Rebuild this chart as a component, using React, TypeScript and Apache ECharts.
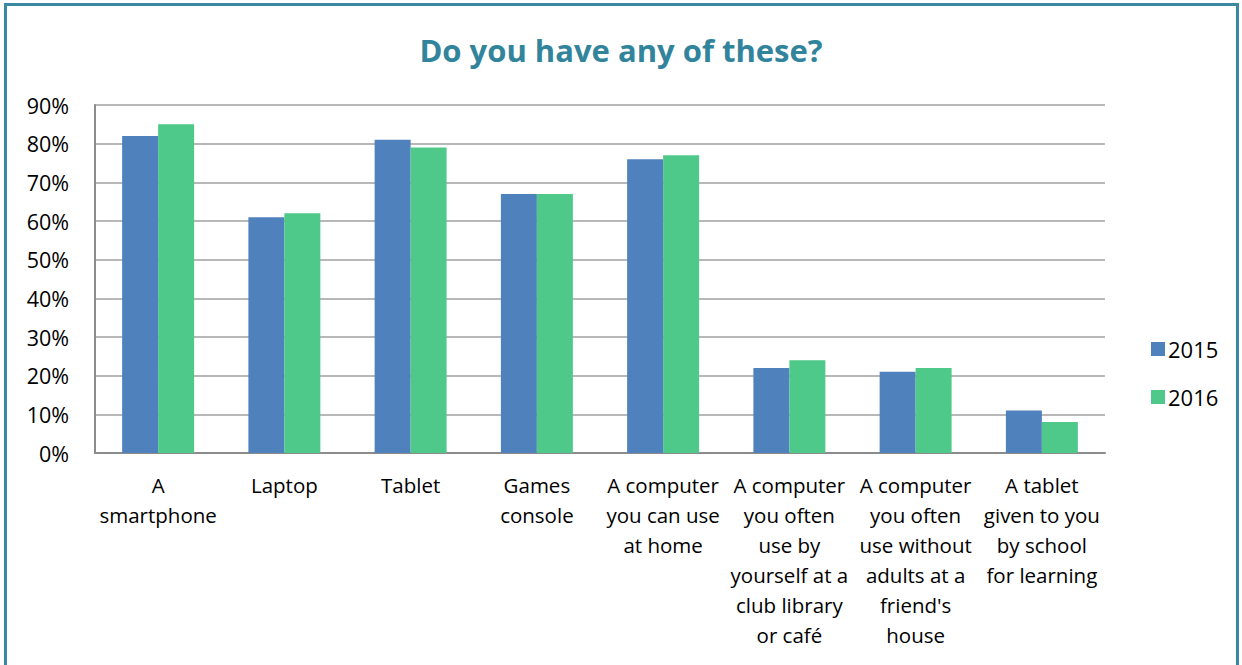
import React, { useEffect, useRef } from "react";
import * as echarts from "echarts";

const categories = [
  "A\nsmartphone",
  "Laptop",
  "Tablet",
  "Games\nconsole",
  "A computer\nyou can use\nat home",
  "A computer\nyou often\nuse by\nyourself at a\nclub library\nor café",
  "A computer\nyou often\nuse without\nadults at a\nfriend's\nhouse",
  "A tablet\ngiven to you\nby school\nfor learning",
];
const values2015 = [82, 61, 81, 67, 76, 22, 21, 11];
const values2016 = [85, 62, 79, 67, 77, 24, 22, 8];
const seriesNames = ["2015", "2016"];
const titleText = "Do you have any of these?";

const FONT = "'Open Sans', 'Noto Sans', sans-serif";

export default function App() {
  const ref = useRef<HTMLDivElement>(null);
  useEffect(() => {
    if (!ref.current) return;
    const chart = echarts.init(ref.current, null, { renderer: "svg" });
    chart.setOption({
      animation: false,
      backgroundColor: "#ffffff",
      textStyle: { fontFamily: FONT },
      title: {
        text: titleText,
        left: "center",
        top: 29,
        textStyle: { color: "#31849B", fontSize: 31, fontWeight: "bold", fontFamily: FONT },
      },
      graphic: [
        {
          type: "rect",
          shape: { x: 5.5, y: 4.5, width: 1232, height: 720 },
          style: { fill: "none", stroke: "#3A89A0", lineWidth: 3 },
          silent: true,
        },
      ],
      legend: {
        orient: "vertical",
        left: 1146,
        top: 333,
        itemWidth: 14,
        itemHeight: 14,
        itemGap: 26,
        icon: "rect",
        textStyle: { fontSize: 22, color: "#000", fontFamily: FONT, padding: [0, 0, 0, -2] },
        data: seriesNames,
      },
      grid: { left: 95, right: 137, top: 105, bottom: 212, containLabel: false },
      xAxis: {
        type: "category",
        data: categories,
        axisLine: { lineStyle: { color: "#8c8c8c", width: 2 } },
        axisTick: { show: false },
        axisLabel: {
          interval: 0,
          color: "#000",
          fontSize: 20.5,
          lineHeight: 30,
          margin: 17,
          fontFamily: FONT,
          verticalAlign: "top",
        },
      },
      yAxis: {
        type: "value",
        min: 0,
        max: 90,
        interval: 10,
        axisLine: { show: true, lineStyle: { color: "#8c8c8c", width: 2 } },
        axisTick: { show: false },
        splitLine: { lineStyle: { color: "#a0a0a0", width: 1.5 } },
        axisLabel: {
          formatter: "{value}%",
          color: "#000",
          fontSize: 21.5,
          margin: 26,
          fontFamily: FONT,
        },
      },
      series: [
        {
          name: seriesNames[0],
          type: "bar",
          data: values2015,
          itemStyle: { color: "#4F81BD" },
          barGap: "0%",
          barCategoryGap: "43%",
        },
        {
          name: seriesNames[1],
          type: "bar",
          data: values2016,
          itemStyle: { color: "#4FC98A" },
          barGap: "0%",
          barCategoryGap: "43%",
        },
      ],
    });
    return () => chart.dispose();
  }, []);
  return (
    <div
      ref={ref}
      style={{ position: "fixed", left: 0, top: 0, width: 1242, height: 665 }}
    />
  );
}
